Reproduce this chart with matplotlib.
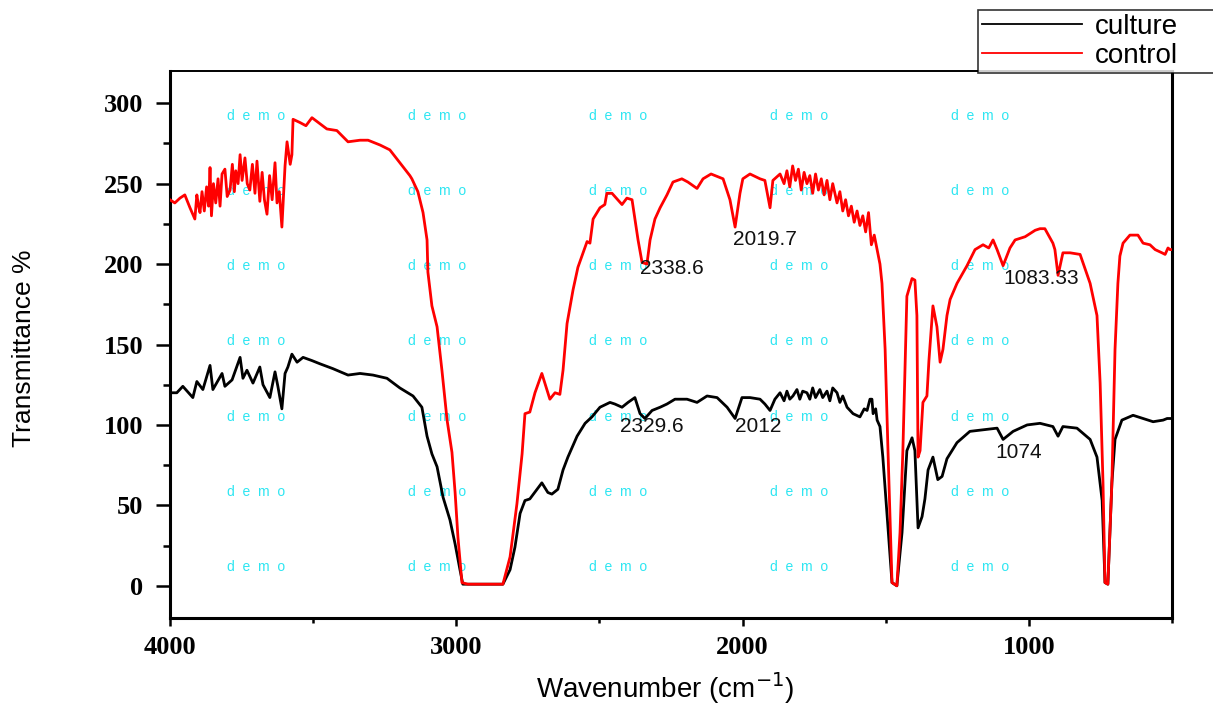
import matplotlib
matplotlib.use("Agg")
import matplotlib.pyplot as plt
from matplotlib.ticker import MultipleLocator

# wavenumber (cm-1) / transmittance pairs
control_wn = [4000, 3983, 3965, 3948, 3930,
              3913, 3906, 3900, 3895, 3888, 3880, 3872, 3865, 3860, 3855, 3848, 3840, 3832,
              3825, 3818, 3808, 3800, 3790, 3782, 3775, 3770, 3762, 3755, 3748, 3738, 3730,
              3721, 3712, 3703, 3696, 3686, 3678, 3670, 3661, 3652, 3643, 3633, 3626, 3618,
              3609, 3598,
              3591, 3580, 3574, 3570, 3546, 3525, 3504, 3452, 3417, 3378, 3336, 3308, 3266,
              3232, 3197, 3162, 3155, 3134, 3116, 3102, 3099, 3085, 3067, 3050, 3032, 3015,
              3004, 2994, 2980, 2960, 2900, 2837, 2812, 2788, 2770, 2760, 2743, 2725, 2701,
              2673, 2655, 2638, 2627, 2613, 2592, 2575, 2557, 2543, 2533, 2522, 2498, 2481,
              2474, 2456, 2446, 2421, 2404, 2386, 2365, 2351, 2334, 2323, 2306, 2288, 2264,
              2243, 2212, 2191, 2159, 2138, 2110, 2068, 2044, 2026, 2009, 1999, 1974, 1939,
              1922, 1904, 1894, 1869, 1855, 1845, 1835, 1825, 1815, 1805, 1795, 1785, 1775,
              1765, 1755, 1745, 1735, 1725, 1715, 1705, 1695, 1685, 1670, 1660, 1650, 1640,
              1630, 1620, 1610, 1600, 1590, 1580, 1570, 1560, 1550, 1540, 1530, 1520, 1513,
              1502, 1492, 1478, 1461, 1450, 1440, 1426, 1408, 1398, 1391, 1387, 1380, 1370,
              1356, 1349, 1335, 1321, 1310, 1300, 1286, 1275, 1251, 1216, 1188, 1160, 1140,
              1125, 1111, 1090, 1066, 1048, 1013, 978, 961, 944, 916, 909, 898, 881, 856,
              821, 786, 762, 751, 741, 734, 724, 710, 699, 689, 682, 671, 647, 619, 601,
              577, 559, 535, 524, 514, 507, 500]
control_t = [240, 238, 241, 243, 235,
             228, 243, 236, 232, 245, 233, 248, 236, 260, 230, 250, 238, 253,
             236, 256, 259, 242, 246, 262, 245, 258, 250, 268, 252, 266, 250,
             246, 262, 244, 264, 239, 257, 240, 231, 255, 240, 263, 238, 245,
             223, 261,
             276, 262, 268, 290, 288, 286, 291, 284, 283, 276, 277, 277, 274,
             271, 263, 255, 253, 245, 232, 215, 195, 174, 161, 134, 103, 83,
             58, 30, 2, 1, 1, 1, 18, 51, 82, 107, 108, 120, 132,
             116, 120, 119, 134, 163, 184, 198, 207, 214, 213, 228, 235, 237,
             244, 244, 242, 237, 241, 240, 215, 201, 200, 215, 228, 235, 243,
             251, 253, 251, 247, 253, 256, 253, 240, 223, 244, 253, 256, 253,
             252, 235, 252, 256, 250, 258, 248, 261, 252, 259, 246, 257, 250,
             255, 244, 256, 246, 253, 243, 252, 240, 250, 238, 245, 233, 240,
             230, 236, 226, 233, 224, 230, 220, 232, 212, 218, 209, 200, 188,
             147, 84, 2, 0, 33, 84, 180, 191, 190, 168, 80, 84, 114,
             118, 140, 174, 161, 139, 147, 168, 178, 188, 199, 209, 212, 210,
             215, 209, 199, 210, 215, 217, 221, 222, 222, 213, 209, 193, 207, 207,
             206, 188, 168, 126, 64, 2, 1, 64, 147, 188, 205, 213, 218, 218, 213,
             212, 209, 207, 206, 210, 209, 209]

culture_wn = [4000, 3976, 3955, 3920, 3906, 3885, 3860, 3850, 3818, 3808, 3783, 3755, 3745,
              3731, 3710, 3686, 3675, 3651, 3633, 3623, 3609, 3598, 3588, 3574, 3556, 3535,
              3504, 3476, 3431, 3378, 3336, 3291, 3242, 3197, 3151, 3120, 3102, 3085, 3067,
              3046, 3022, 3004, 2987, 2977, 2900, 2837, 2812, 2795, 2777, 2760, 2743, 2718,
              2701, 2680, 2666, 2645, 2627, 2610, 2578, 2550, 2526, 2498, 2463, 2446, 2421,
              2400, 2376, 2358, 2341, 2316, 2288, 2264, 2236, 2194, 2159, 2124, 2089, 2054,
              2026, 2002, 1974, 1939, 1922, 1904, 1887, 1869, 1855, 1845, 1835, 1824, 1810,
              1800, 1790, 1775, 1765, 1755, 1745, 1730, 1720, 1705, 1695, 1685, 1670, 1660,
              1650, 1635, 1614, 1590, 1575, 1565, 1555, 1548, 1544, 1535, 1530, 1520, 1510,
              1495, 1478, 1461, 1443, 1426, 1408, 1398, 1387, 1373, 1363, 1352, 1335, 1318,
              1303, 1286, 1251, 1206, 1160, 1111, 1090, 1055, 1006, 961, 916, 898, 881, 832,
              786, 762, 744, 734, 724, 710, 699, 675, 636, 601, 566, 531, 517, 500]
culture_t = [120, 120, 124, 117, 127, 122, 137, 122, 132, 124, 128, 142, 129,
             134, 126, 136, 125, 117, 133, 124, 110, 132, 136, 144, 139, 142,
             140, 138, 135, 131, 132, 131, 129, 123, 118, 111, 93, 82, 74,
             55, 41, 26, 10, 1, 1, 1, 10, 24, 45, 53, 54, 60,
             64, 58, 57, 60, 72, 80, 93, 101, 105, 111, 114, 113, 111,
             114, 117, 107, 104, 109, 111, 113, 116, 116, 114, 118, 117, 111,
             104, 117, 117, 116, 113, 109, 116, 120, 115, 121, 116, 118, 122,
             116, 121, 120, 116, 123, 117, 122, 117, 121, 115, 123, 120, 114,
             118, 111, 107, 105, 110, 109, 116, 116, 107, 110, 103, 99, 80,
             43, 2, 0, 33, 84, 92, 84, 36, 43, 54, 72, 80, 66,
             68, 79, 89, 96, 97, 98, 91, 96, 100, 101, 99, 93, 99, 98,
             91, 80, 53, 2, 1, 64, 91, 103, 106, 104, 102, 103, 104, 104]

peak_labels = ["2338.6", "2019.7", "1083.33", "2329.6", "2012", "1074"]
peak_wn = [2358, 2033, 1090, 2428, 2026, 1118]
peak_t = [197, 215, 191, 99, 99, 83]

fig = plt.figure(figsize=(12.13, 7.04), dpi=100)
ax = fig.add_axes([0.1401, 0.1222, 0.8261, 0.7769])

# watermark grid
for i in range(5):
    for j in range(7):
        ax.text(0.0858 + i * 0.1806, 0.918 - j * 0.1375, "d  e  m  o",
                transform=ax.transAxes, ha="center", va="center",
                fontsize=10, color="#2ee6f2", family="Liberation Sans", zorder=1)

ax.plot(culture_wn, culture_t, color="black", lw=2.0, label="culture", zorder=3)
ax.plot(control_wn, control_t, color="#ff0000", lw=2.0, label="control", zorder=4)

for lab, x, y in zip(peak_labels, peak_wn, peak_t):
    ax.text(x, y, lab, ha="left", va="center", fontsize=15,
            family="Liberation Sans", color="#111111", zorder=5)

ax.set_xlim(4000, 500)
ax.set_ylim(-20, 320)
ax.xaxis.set_major_locator(MultipleLocator(1000))
ax.xaxis.set_minor_locator(MultipleLocator(500))
ax.yaxis.set_major_locator(MultipleLocator(50))
ax.yaxis.set_minor_locator(MultipleLocator(25))

ax.tick_params(axis="y", which="major", direction="out", length=10, width=1.8, pad=9)
ax.tick_params(axis="y", which="minor", direction="out", length=5, width=1.8)
ax.tick_params(axis="x", which="major", direction="out", length=6, width=1.8, pad=7)
ax.tick_params(axis="x", which="minor", direction="out", length=3.5, width=1.8)
for lab in ax.get_xticklabels() + ax.get_yticklabels():
    lab.set_family("Liberation Serif")
    lab.set_fontweight("bold")
    lab.set_fontsize(19)

for s in ["left", "bottom", "right"]:
    ax.spines[s].set_linewidth(2.2)
ax.spines["top"].set_linewidth(1.4)

ax.set_xlabel("Wavenumber (cm$^{-1}$)", fontsize=20, family="Liberation Sans")
ax.xaxis.set_label_coords(0.494, -0.095)
ax.set_ylabel("Transmittance %", fontsize=19, family="Liberation Sans")
ax.yaxis.set_label_coords(-0.1337, 0.4936)

leg = fig.legend(loc="upper left", mode="expand",
                 bbox_to_anchor=(978 / 1213, 0.5, 320 / 1213, 0.5 - 10 / 704),
                 prop={"family": "Liberation Sans", "size": 20},
                 frameon=True, fancybox=False, edgecolor="black",
                 handlelength=3.6, handletextpad=0.45, labelspacing=0.1,
                 borderpad=0.15, borderaxespad=0)
leg.get_frame().set_linewidth(1.2)
for line in leg.get_lines():
    line.set_linewidth(1.3)

fig.savefig("out.png", dpi=100)
